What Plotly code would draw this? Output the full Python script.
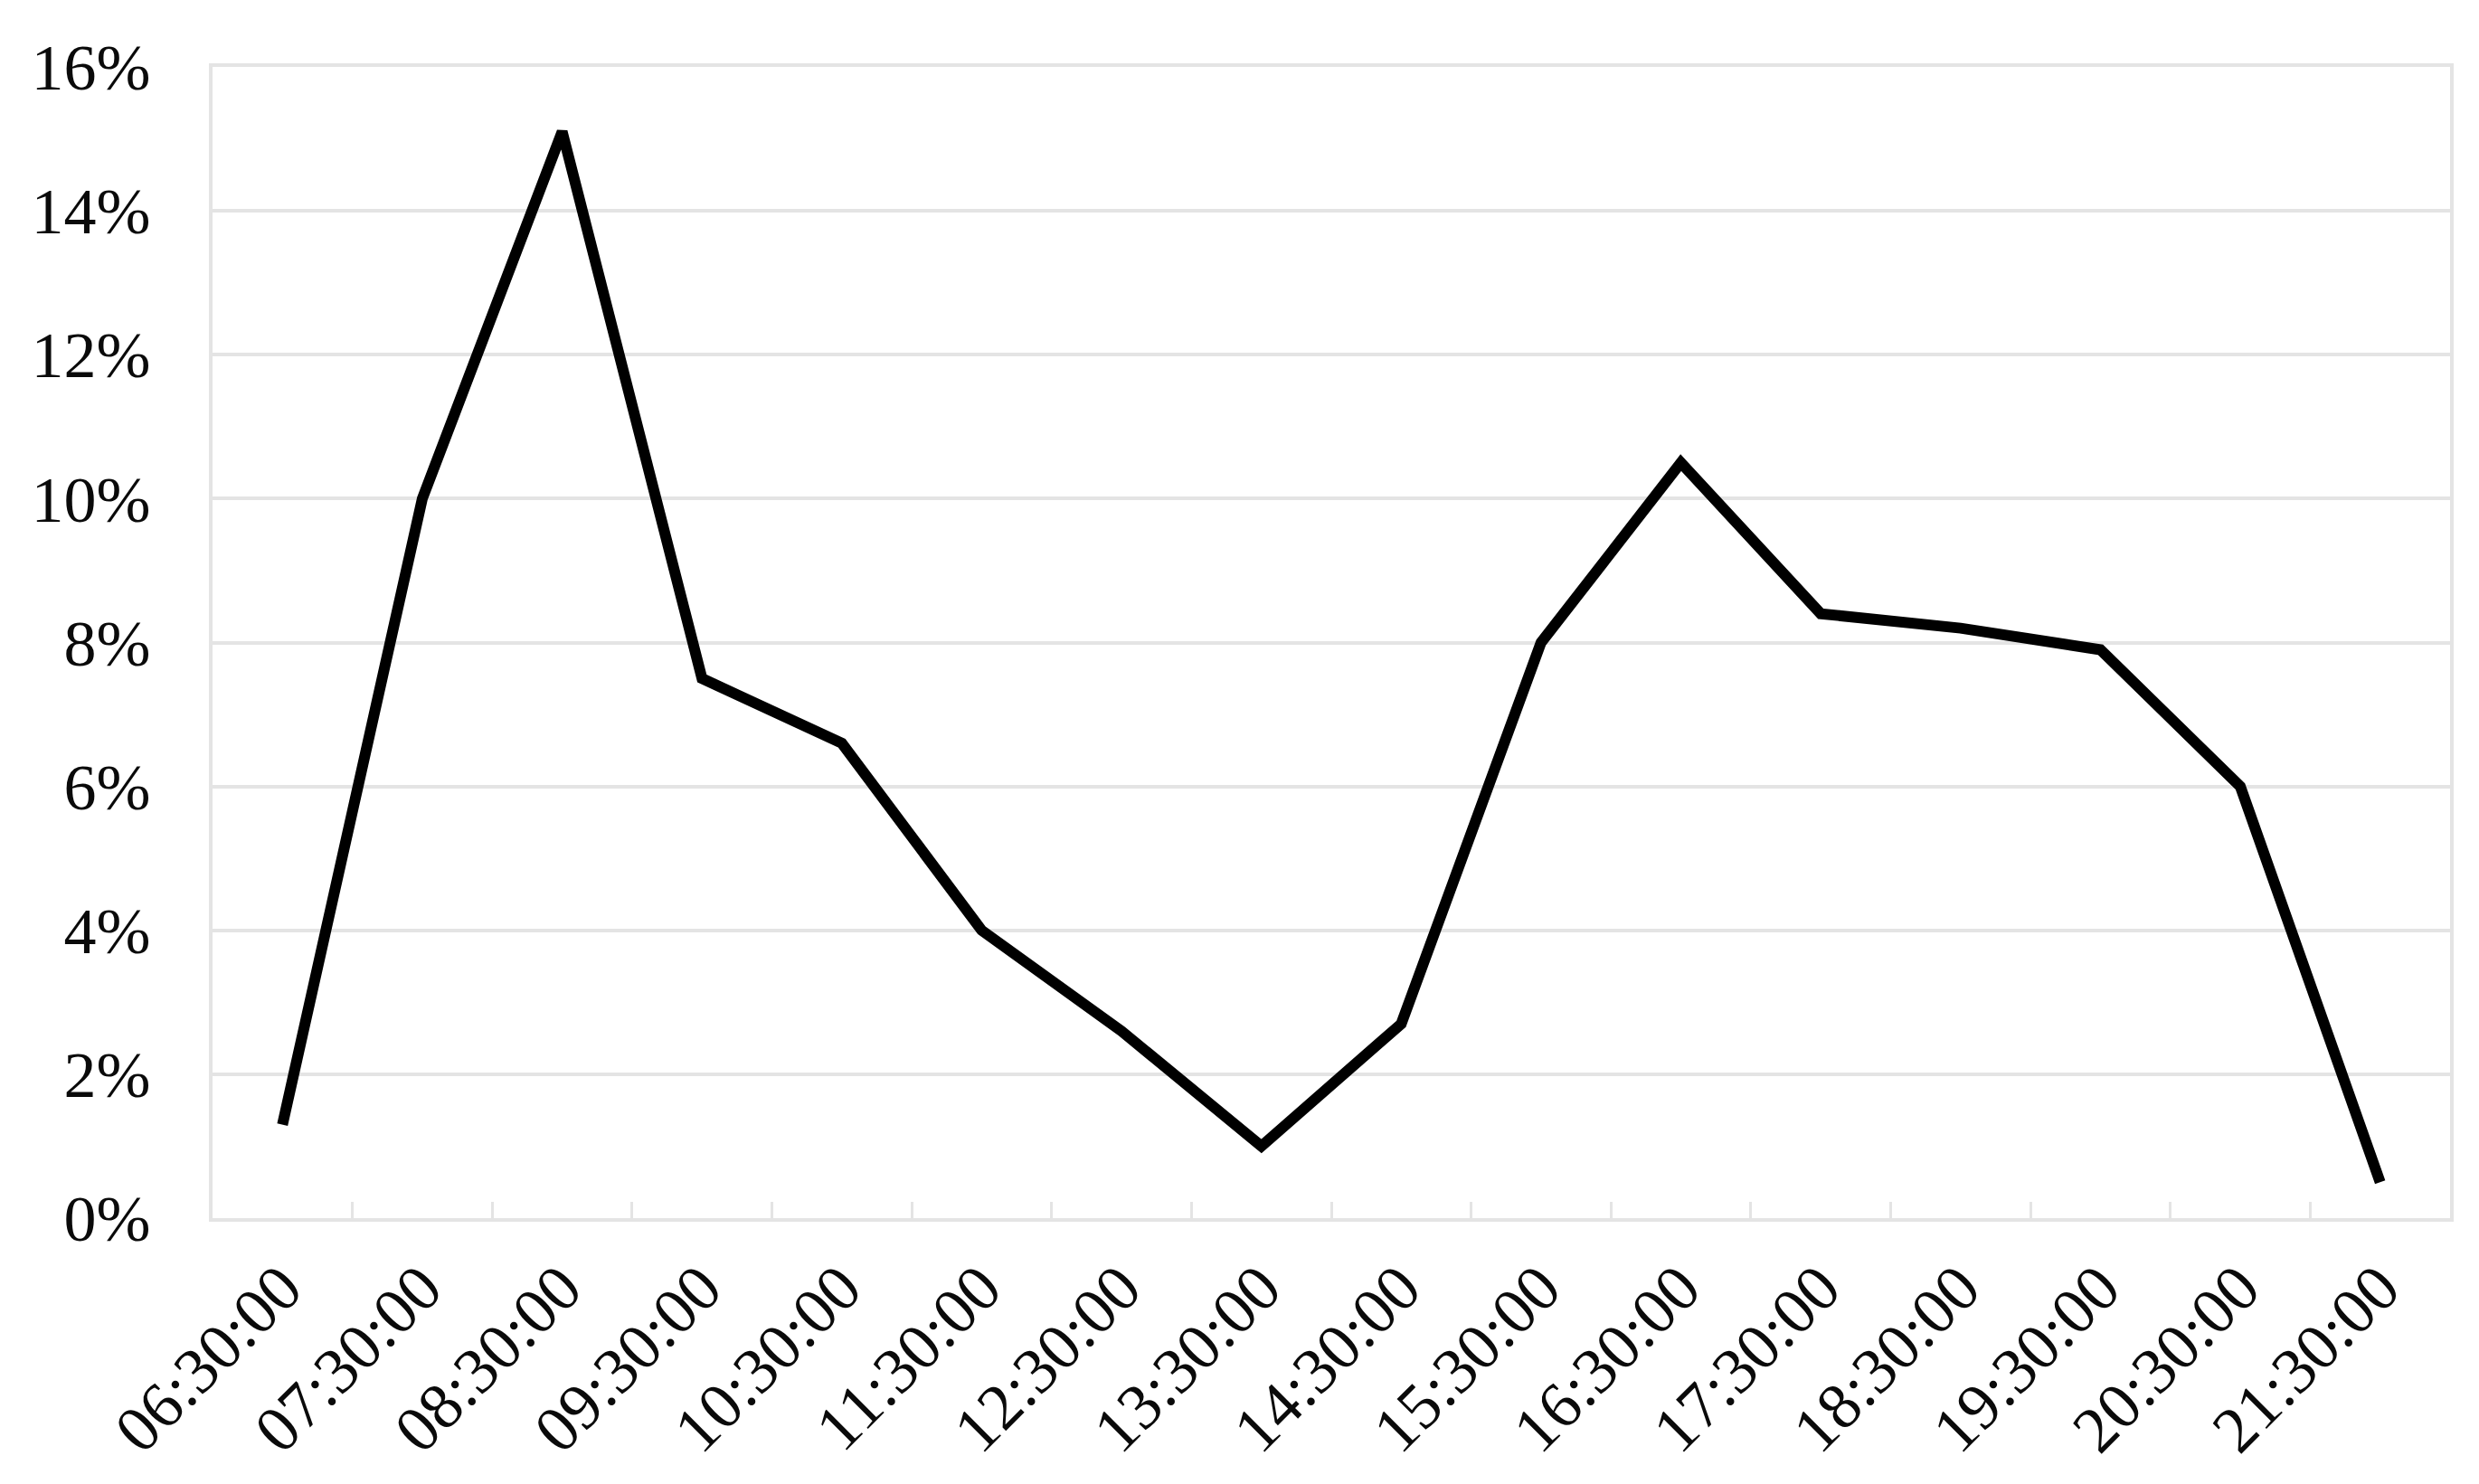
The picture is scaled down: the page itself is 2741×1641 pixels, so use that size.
import plotly.graph_objects as go

times = ["06:30:00", "07:30:00", "08:30:00", "09:30:00", "10:30:00", "11:30:00",
         "12:30:00", "13:30:00", "14:30:00", "15:30:00", "16:30:00", "17:30:00",
         "18:30:00", "19:30:00", "20:30:00", "21:30:00"]
share = [0.013, 0.100, 0.151, 0.075, 0.066, 0.040,
         0.026, 0.010, 0.027, 0.080, 0.105, 0.084,
         0.082, 0.079, 0.060, 0.005]
y_ticks = [0, 0.02, 0.04, 0.06, 0.08, 0.10, 0.12, 0.14, 0.16]

fig = go.Figure()
fig.add_trace(go.Scatter(
    x=times, y=share, mode="lines",
    line=dict(color="black", width=12),
    showlegend=False,
))

font = dict(family="Liberation Serif, Times New Roman, serif", size=72, color="#0a0a0a")
grid = "#e4e4e4"

fig.update_layout(
    width=2741, height=1641,
    margin=dict(l=227, r=40, t=66, b=302),
    paper_bgcolor="white", plot_bgcolor="white",
    font=font,
)
fig.update_xaxes(
    type="category", range=[-0.5, len(times) - 0.5], tickangle=-45, tickfont=font,
    showgrid=False, showline=True, mirror=True, linecolor=grid, linewidth=4,
    ticks="inside", tickson="boundaries", ticklen=18, tickcolor=grid, tickwidth=3,
    ticklabelstandoff=2,
)
fig.update_yaxes(
    range=[0, 0.16], tickvals=y_ticks, tickformat=".0%", tickfont=font,
    showgrid=True, gridcolor=grid, gridwidth=4,
    showline=True, mirror=True, linecolor=grid, linewidth=4,
    zeroline=False, ticks="", ticklabelstandoff=50,
)

fig.write_html("out.html")
